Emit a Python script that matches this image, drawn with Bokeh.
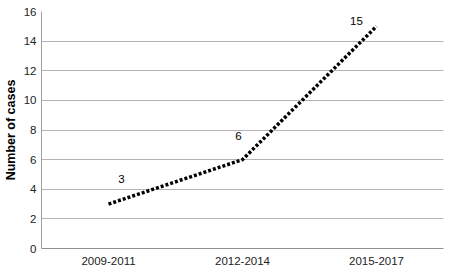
from bokeh.plotting import figure
from bokeh.models import ColumnDataSource, FixedTicker, LabelSet, Range1d
from bokeh.core.properties import value
from bokeh.embed import file_html
from bokeh.resources import INLINE

periods = ["2009-2011", "2012-2014", "2015-2017"]
cases = [3, 6, 15]
labels = ["3", "6", "15"]
y_ticks = [0, 2, 4, 6, 8, 10, 12, 14, 16]

# label placement offsets (pixels), style only
label_dx = [13, -4, -20]
label_dy = [25, 24, 5]

src = ColumnDataSource(dict(x=periods, y=cases, t=labels, dx=label_dx, dy=label_dy))

p = figure(x_range=periods, y_range=Range1d(0, 16), width=450, height=278,
           output_backend="svg", toolbar_location=None,
           min_border_left=0, min_border_right=7, min_border_top=11, min_border_bottom=30)
p.outline_line_color = None
p.background_fill_color = "white"

p.line("x", "y", source=src, line_color="black", line_width=3.5, line_dash="3 2")

lbl = LabelSet(x="x", y="y", text="t", source=src, x_offset="dx", y_offset="dy",
               text_align="center", text_baseline="middle",
               text_font=value("Liberation Sans"), text_font_size=value("11.5px"),
               text_color="black")
p.add_layout(lbl)

p.yaxis.ticker = FixedTicker(ticks=y_ticks)
p.ygrid.grid_line_color = "#b4b4b4"
p.ygrid.grid_line_width = 1
p.xgrid.grid_line_color = None

p.yaxis.axis_label = "Number of cases"
p.yaxis.axis_label_text_font = "Liberation Sans"
p.yaxis.axis_label_text_font_style = "bold"
p.yaxis.axis_label_text_font_size = "12.5px"
p.yaxis.axis_label_text_color = "black"
p.yaxis.axis_label_standoff = 3
p.yaxis.axis_line_color = "#a0a0a0"
p.yaxis.major_tick_line_color = None
p.yaxis.minor_tick_line_color = None
p.yaxis.major_tick_out = 0
p.yaxis.major_tick_in = 0
p.yaxis.minor_tick_out = 0
p.yaxis.major_label_text_font = "Liberation Sans"
p.yaxis.major_label_text_font_size = "11.5px"
p.yaxis.major_label_text_color = "#222222"
p.yaxis.major_label_standoff = 5

p.xaxis.axis_line_color = "#909090"
p.xaxis.major_tick_line_color = None
p.xaxis.minor_tick_line_color = None
p.xaxis.major_tick_out = 0
p.xaxis.major_tick_in = 0
p.xaxis.minor_tick_out = 0
p.xaxis.major_label_text_font = "Liberation Sans"
p.xaxis.major_label_text_font_size = "11.5px"
p.xaxis.major_label_text_color = "#222222"
p.xaxis.major_label_standoff = 8

open("out.html", "w").write(file_html(p, INLINE))
